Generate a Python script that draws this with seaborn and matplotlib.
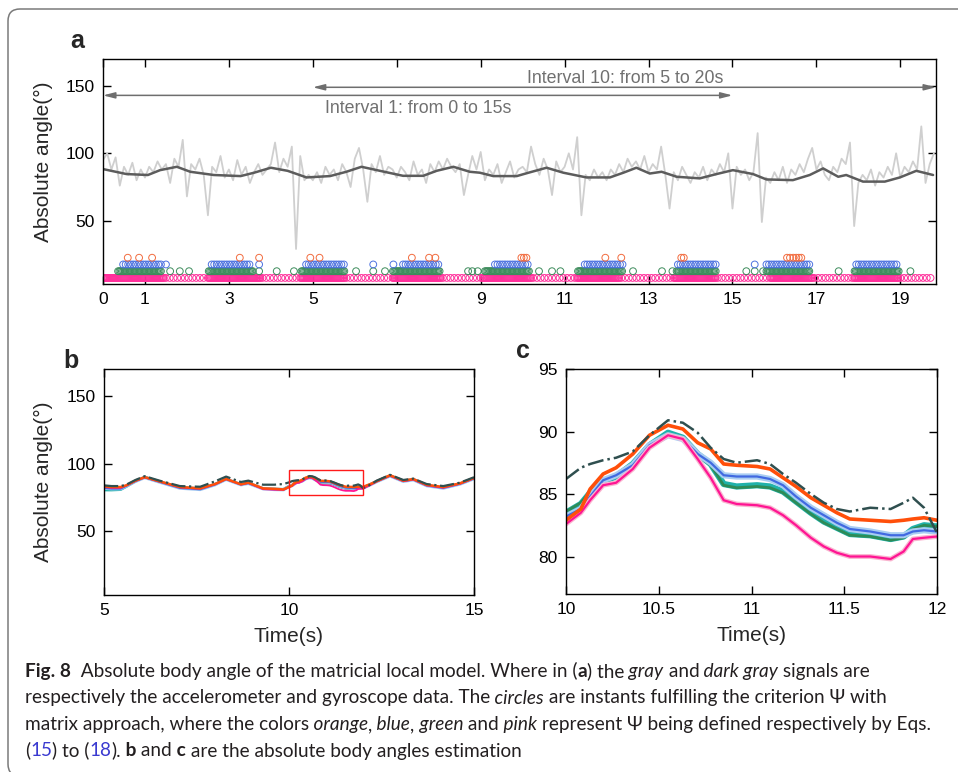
import numpy as np
import pandas as pd
import matplotlib
matplotlib.use("Agg")
import matplotlib.pyplot as plt
import seaborn as sns
from matplotlib.patches import FancyBboxPatch, Rectangle
from matplotlib.transforms import IdentityTransform

# ---------------- data: panel a ----------------
accel_t = np.round(np.arange(0, 19.85, 0.1), 1)
accel = [
    95, 100, 88, 97, 76, 90, 84, 93, 80, 88,
    82, 90, 86, 94, 88, 92, 78, 96, 90, 110,
    68, 92, 88, 96, 84, 54, 90, 86, 98, 82,
    88, 80, 95, 84, 90, 78, 86, 92, 84, 88,
    92, 108, 86, 96, 90, 105, 29, 98, 80, 84,
    80, 86, 78, 90, 84, 88, 80, 92, 86, 75,
    96, 104, 88, 64, 92, 86, 98, 84, 90, 88,
    82, 90, 86, 80, 94, 84, 88, 78, 92, 86,
    94, 88, 96, 90, 86, 92, 69, 84, 98, 88,
    101, 80, 88, 84, 92, 78, 86, 94, 82, 88,
    90, 86, 105, 92, 84, 96, 88, 69, 94, 86,
    90, 100, 88, 112, 54, 84, 80, 88, 82, 86,
    80, 88, 84, 92, 86, 96, 90, 94, 88, 98,
    86, 92, 88, 105, 84, 59, 86, 80, 90, 84,
    78, 86, 82, 90, 80, 88, 84, 92, 86, 100,
    59, 90, 84, 88, 80, 86, 115, 49, 82, 78,
    86, 80, 90, 78, 88, 84, 92, 86, 96, 104,
    88, 94, 84, 80, 90, 86, 96, 92, 108, 46,
    78, 84, 80, 88, 76, 86, 82, 90, 84, 100,
    82, 90, 86, 94, 88, 120, 78, 92, 100,
]
gyro_t = [0.0, 0.56, 1.07, 1.36, 1.76, 2.08, 2.64, 3.28, 3.6, 4.0, 4.4, 4.85, 5.41,
          5.8, 6.16, 6.6, 7.15, 7.63, 7.95, 8.35, 8.74, 8.98, 9.3, 9.86, 10.14, 10.57,
          10.97, 11.52, 12.08, 12.4, 12.71, 13.03, 13.31, 13.67, 14.22, 14.62, 15.01,
          15.49, 15.81, 16.44, 16.84, 17.16, 17.52, 17.71, 18.11, 18.63, 18.99, 19.38, 19.78]
gyro = [88.3, 84.6, 83.9, 87.5, 90.0, 86.3, 83.9, 83.1, 85.6, 89.3, 87.0, 82.1, 83.1,
        86.3, 90.0, 87.0, 83.3, 83.3, 87.0, 90.0, 86.3, 85.6, 83.1, 83.1, 85.6, 89.3,
        85.6, 82.1, 82.1, 85.6, 89.3, 85.0, 86.3, 82.6, 81.4, 84.6, 87.5,
        84.6, 80.6, 80.1, 83.9, 88.8, 82.6, 83.9, 79.0, 79.0, 82.1, 87.0, 83.9]

# instants fulfilling the criterion (level of each row, runs as (start, end, spacing), single instants)
row_levels = {"orange": 22.5, "blue": 17.5, "green": 12.5, "pink": 7.5}
orange_single = [0.59, 0.86, 1.17, 3.26, 3.72, 4.94, 5.16, 7.36, 7.77, 7.92, 9.97, 10.03,
                 10.09, 11.97, 12.35, 13.78, 13.84, 16.3, 16.37, 16.45, 16.52, 16.58, 16.64]
blue_runs = [(0.48, 1.4, 0.06), (2.59, 3.5, 0.06), (4.84, 5.74, 0.06), (7.15, 8.03, 0.06),
             (9.34, 10.17, 0.06), (11.48, 12.39, 0.06), (13.7, 14.62, 0.06),
             (15.81, 16.84, 0.06), (17.95, 18.95, 0.06)]
blue_single = [1.5, 3.72, 6.44, 6.92, 15.53]
green_runs = [(0.36, 1.4, 0.03), (2.52, 3.57, 0.03), (4.73, 5.76, 0.03), (6.91, 8.03, 0.03),
              (9.1, 10.17, 0.03), (11.32, 12.39, 0.03), (13.67, 14.62, 0.03),
              (15.81, 16.84, 0.03), (17.91, 18.98, 0.03)]
green_single = [1.6, 1.83, 2.05, 3.72, 4.14, 4.55, 6.03, 6.44, 6.72, 8.7, 8.8, 8.93, 10.39,
                10.7, 10.9, 12.63, 13.32, 13.57, 15.33, 15.53, 15.73, 17.53, 19.24]
pink_runs = [(0.0, 1.45, 0.025), (2.5, 3.75, 0.025), (4.7, 5.75, 0.025), (6.9, 8.05, 0.025),
             (9.05, 10.2, 0.025), (11.3, 12.3, 0.025), (13.6, 14.6, 0.025),
             (15.9, 16.9, 0.025), (17.9, 18.95, 0.025),
             (1.5, 2.45, 0.09), (3.8, 4.65, 0.09), (5.8, 6.85, 0.09), (8.1, 9.0, 0.09),
             (10.25, 11.25, 0.09), (12.35, 13.55, 0.09), (14.65, 15.85, 0.09),
             (16.95, 17.85, 0.09), (19.0, 19.8, 0.09)]
pink_single = []

# ---------------- data: panels b and c ----------------
t_left = [5.0, 5.2, 5.45, 5.6, 5.85, 6.1, 6.5, 7.05, 7.6, 8.0, 8.3, 8.7, 8.9, 9.3, 9.6, 9.85]
t_mid = [10.0, 10.08, 10.13, 10.2, 10.27, 10.36, 10.45, 10.55, 10.63, 10.71, 10.78, 10.85,
         10.92, 11.03, 11.1, 11.17, 11.24, 11.32, 11.39, 11.46, 11.53, 11.64, 11.75, 11.82,
         11.87, 11.93, 12.0]
t_right = [12.2, 12.37, 12.73, 13.09, 13.36, 13.72, 14.17, 14.62, 15.0]

ref_left = [84.0, 83.5, 83.5, 84.5, 88.0, 90.8, 87.5, 83.5, 83.0, 87.0, 90.5, 86.5, 87.5, 84.5, 84.5, 85.0]
ref_mid = [86.2, 87.1, 87.4, 87.7, 87.9, 88.4, 89.7, 90.9, 90.7, 89.9, 88.7, 87.8, 87.5, 87.7,
           87.4, 86.6, 85.9, 85.0, 84.3, 83.8, 83.6, 83.9, 83.8, 84.3, 84.7, 83.9, 81.9]
ref_right = [84.5, 87.5, 91.8, 88.0, 89.0, 85.0, 83.5, 86.0, 90.0]

orange_left = [83.3, 82.8, 82.8, 84.0, 87.5, 90.1, 87.0, 82.8, 81.8, 85.0, 88.8, 84.8, 86.0, 81.8, 81.5, 81.0]
orange_mid = [82.9, 83.8, 85.4, 86.6, 87.1, 88.2, 89.7, 90.5, 90.2, 89.1, 88.6, 87.4, 87.3, 87.2,
              87.0, 86.3, 85.6, 84.7, 84.1, 83.5, 83.0, 82.9, 82.8, 82.9, 83.0, 83.1, 82.9]
orange_right = [85.0, 87.1, 91.5, 87.5, 88.7, 84.4, 82.8, 85.5, 89.5]

blue_left = [82.0, 81.5, 81.5, 83.5, 87.0, 89.8, 86.5, 82.0, 81.0, 84.5, 88.5, 84.5, 85.5, 81.5, 81.0, 80.8]
blue_mid = [83.2, 83.8, 84.8, 86.1, 86.5, 87.3, 88.9, 89.7, 89.4, 88.2, 87.5, 86.5, 86.4, 86.4,
            86.2, 85.7, 84.8, 83.9, 83.3, 82.7, 82.2, 82.0, 81.7, 81.7, 82.0, 82.1, 82.0]
blue_right = [84.5, 86.8, 91.0, 87.0, 88.2, 83.8, 82.0, 85.0, 89.0]

green_left = [82.5, 82.0, 82.0, 83.8, 87.3, 90.0, 86.8, 82.5, 81.5, 84.8, 88.6, 84.6, 85.8, 81.6, 81.3, 81.0]
green_mid = [83.6, 84.3, 85.2, 86.1, 86.4, 87.4, 88.9, 89.8, 89.4, 88.1, 87.3, 85.7, 85.5, 85.6,
             85.5, 85.1, 84.3, 83.4, 82.7, 82.2, 81.7, 81.6, 81.3, 81.5, 82.2, 82.5, 82.4]
green_right = [84.7, 87.0, 91.2, 87.2, 88.4, 84.0, 82.3, 85.2, 89.2]

teal_left = [80.5, 80.5, 80.8, 83.0, 87.0, 90.3, 86.8, 82.8, 81.6, 84.9, 88.7, 84.7, 85.9, 81.7, 81.4, 81.2]
teal_mid = [83.5, 84.2, 85.1, 86.0, 86.4, 87.4, 88.9, 89.9, 89.5, 88.2, 87.4, 85.8, 85.6, 85.7,
            85.6, 85.2, 84.4, 83.5, 82.8, 82.3, 81.8, 81.7, 81.4, 81.6, 82.2, 82.5, 82.4]
teal_right = [84.8, 87.0, 91.3, 87.3, 88.5, 84.1, 82.4, 85.3, 89.3]

pink_left = [82.8, 82.2, 82.2, 83.8, 87.3, 89.9, 86.8, 82.5, 81.5, 84.8, 88.6, 84.6, 85.8, 81.2, 80.8, 80.6]
pink_mid = [82.6, 83.5, 84.5, 85.7, 85.9, 87.0, 88.7, 89.7, 89.4, 87.8, 86.3, 84.5, 84.2, 84.1,
            83.9, 83.3, 82.5, 81.5, 80.8, 80.3, 80.0, 80.0, 79.8, 80.4, 81.4, 81.5, 81.6]
pink_right = [84.3, 86.8, 91.1, 87.1, 88.3, 84.0, 82.3, 85.2, 89.2]

zoom_box = (10.0, 77.0, 12.0, 95.0)

a_xticks = [0, 1, 3, 5, 7, 9, 11, 13, 15, 17, 19]
a_yticks = [50, 100, 150]
b_xticks = [5, 10, 15]
c_xticks = [10, 10.5, 11, 11.5, 12]
c_xticklabels = ["10", "10.5", "11", "11.5", "12"]
c_yticks = [80, 85, 90, 95]

interval1 = (0, 15, 143, "Interval 1: from 0 to 15s", 7.5, 133.5)
interval10 = (5, 19.85, 149, "Interval 10: from 5 to 20s", 12.45, 155.5)

# ---------------- style ----------------
sns.set_style("ticks")
plt.rcParams["font.family"] = ["Liberation Sans", "DejaVu Sans"]
plt.rcParams["axes.linewidth"] = 1.0

C_ORANGE = "#f26c3f"
C_BLUE = "#4d72e0"
C_GREEN = "#3d8c5c"
C_PINK = "#ff2f9b"

W, H = 958, 772
fig = plt.figure(figsize=(W / 100, H / 100), dpi=100)


def fbox(l, t, r, b):
    return [l / W, 1 - b / H, (r - l) / W, (b - t) / H]


ax_a = fig.add_axes(fbox(103, 59, 936, 284))
ax_b = fig.add_axes(fbox(104, 369, 474, 595))
ax_c = fig.add_axes(fbox(566, 369, 937, 594))

for ax in (ax_a, ax_b, ax_c):
    ax.tick_params(direction="in", length=6, width=1, top=True, right=True,
                   labelsize=12.5, pad=6, colors="black")
    for sp in ax.spines.values():
        sp.set_color("black")
        sp.set_linewidth(1.0)

# ---------------- panel a ----------------
sns.lineplot(x=accel_t, y=accel, ax=ax_a, color="#cfcfcf", lw=1.3, estimator=None, sort=False)
sns.lineplot(x=gyro_t, y=gyro, ax=ax_a, color="#5c5c5c", lw=1.8, estimator=None, sort=False)


def expand(runs, singles):
    xs = list(singles)
    for s, e, d in runs:
        xs.extend(np.arange(s, e + 1e-9, d).tolist())
    return np.array(xs)


for name, col, runs, singles in [
    ("pink", C_PINK, pink_runs, pink_single),
    ("green", C_GREEN, green_runs, green_single),
    ("blue", C_BLUE, blue_runs, blue_single),
    ("orange", C_ORANGE, [], orange_single),
]:
    xs = expand(runs, singles)
    ys = np.full(len(xs), row_levels[name])
    sns.scatterplot(x=xs, y=ys, ax=ax_a, marker="o", s=24, color=col, facecolor="none",
                    edgecolor=col, linewidth=0.7, legend=False)

for (x0, x1, yv, label, tx, ty) in (interval1, interval10):
    ax_a.annotate("", xy=(x1, yv), xytext=(x0, yv), annotation_clip=False,
                  arrowprops=dict(arrowstyle="<|-|>,head_length=0.7,head_width=0.18",
                                  color="#6e6e6e", lw=1.1, shrinkA=0, shrinkB=0))
    ax_a.text(tx, ty, label, ha="center", va="center", fontsize=12.8, color="#707070")

ax_a.set_xlim(0, 19.85)
ax_a.set_ylim(3, 170)
ax_a.set_xticks(a_xticks)
ax_a.set_xticklabels([str(v) for v in a_xticks])
ax_a.set_yticks(a_yticks)
ax_a.set_xlabel("")
ax_a.set_ylabel("Absolute angle(°)", fontsize=15)
ax_a.yaxis.set_label_coords(-0.06, 0.545)

# ---------------- panel b ----------------
def series(left, mid, right):
    return t_left + t_mid + t_right, left + mid + right


tt, yy = series(teal_left, teal_mid, teal_right)
sns.lineplot(x=tt, y=yy, ax=ax_b, color="#20b2aa", lw=1.8, estimator=None, sort=False)
tt, yy = series(green_left, green_mid, green_right)
sns.lineplot(x=tt, y=yy, ax=ax_b, color="#2e8b57", lw=1.3, estimator=None, sort=False)
tt, yy = series(blue_left, blue_mid, blue_right)
sns.lineplot(x=tt, y=yy, ax=ax_b, color="#9ec5f0", lw=2.4, estimator=None, sort=False)
sns.lineplot(x=tt, y=yy, ax=ax_b, color="#4169e1", lw=1.2, estimator=None, sort=False)
tt, yy = series(pink_left, pink_mid, pink_right)
sns.lineplot(x=tt, y=yy, ax=ax_b, color="#ff1493", lw=1.3, estimator=None, sort=False)
tt, yy = series(orange_left, orange_mid, orange_right)
sns.lineplot(x=tt, y=yy, ax=ax_b, color="#ff4f0a", lw=1.8, estimator=None, sort=False)
tt, yy = series(ref_left, ref_mid, ref_right)
sns.lineplot(x=tt, y=yy, ax=ax_b, color="#2f4f4f", lw=1.6, linestyle="-.", estimator=None, sort=False)

x0, y0, x1, y1 = zoom_box
ax_b.add_patch(Rectangle((x0, y0), x1 - x0, y1 - y0, fill=False, edgecolor="#ff1a1a", lw=1.0, zorder=5))
ax_b.set_xlim(5, 15)
ax_b.set_ylim(3, 170)
ax_b.set_xticks(b_xticks)
ax_b.set_yticks(a_yticks)
ax_b.set_xlabel("Time(s)", fontsize=15, labelpad=6)
ax_b.set_ylabel("Absolute angle(°)", fontsize=15)
ax_b.yaxis.set_label_coords(-0.138, 0.5)

# ---------------- panel c ----------------
sns.lineplot(x=t_mid, y=teal_mid, ax=ax_c, color="#20b2aa", lw=4.5, estimator=None, sort=False)
sns.lineplot(x=t_mid, y=green_mid, ax=ax_c, color="#2e8b57", lw=2.0, estimator=None, sort=False)
sns.lineplot(x=t_mid, y=blue_mid, ax=ax_c, color="#a9cdf2", lw=4.5, estimator=None, sort=False)
sns.lineplot(x=t_mid, y=blue_mid, ax=ax_c, color="#4169e1", lw=1.6, estimator=None, sort=False)
sns.lineplot(x=t_mid, y=pink_mid, ax=ax_c, color="#f9b4cf", lw=3.5, estimator=None, sort=False)
sns.lineplot(x=t_mid, y=pink_mid, ax=ax_c, color="#ff1493", lw=1.6, estimator=None, sort=False)
sns.lineplot(x=t_mid, y=orange_mid, ax=ax_c, color="#ff4f0a", lw=2.6, estimator=None, sort=False)
sns.lineplot(x=t_mid, y=ref_mid, ax=ax_c, color="#2f4f4f", lw=1.8, linestyle="-.", estimator=None, sort=False)
ax_c.set_xlim(10, 12)
ax_c.set_ylim(77, 95)
ax_c.set_xticks(c_xticks)
ax_c.set_xticklabels(c_xticklabels)
ax_c.set_yticks(c_yticks)
ax_c.set_xlabel("Time(s)", fontsize=15, labelpad=6)
ax_c.set_ylabel("")

# ---------------- panel letters ----------------
fig.text(70 / W, 1 - 48 / H, "a", fontsize=18, fontweight="bold", va="baseline")
fig.text(63 / W, 1 - 368 / H, "b", fontsize=18, fontweight="bold", va="baseline")
fig.text(516 / W, 1 - 358 / H, "c", fontsize=18, fontweight="bold", va="baseline")

# ---------------- frame ----------------
frame = FancyBboxPatch((8, -4), 1000, 767, boxstyle="round,pad=0,rounding_size=12",
                       transform=IdentityTransform(), fill=False, edgecolor="#7a7a7a",
                       lw=1.1, clip_on=False)
fig.add_artist(frame)

# ---------------- caption ----------------
CAP_FONT = ["Lato", "DejaVu Sans"]
CAP_SIZE = 13.7
cap_lines = [
    (677, [("Fig. 8", "b"), ("  Absolute body angle of the matricial local model. Where in (", "n"),
           ("a", "b"), (") the", "n"), (" gray", "i"), (" and", "n"), (" dark gray", "i"),
           (" signals are", "n")]),
    (703.5, [("respectively the accelerometer and gyroscope data. The", "n"), (" circles", "i"),
             (" are instants fulfilling the criterion Ψ with", "n")]),
    (730, [("matrix approach, where the colors", "n"), (" orange", "i"), (",", "n"),
           (" blue", "i"), (",", "n"), (" green", "i"), (" and", "n"), (" pink", "i"),
           (" represent Ψ being defined respectively by Eqs.", "n")]),
    (756.5, [("(", "n"), ("15", "link"), (") to (", "n"), ("18", "link"), (").", "n"),
             (" b", "b"), (" and", "n"), (" c", "b"), (" are the absolute body angles estimation", "n")]),
]
for ypx, segs in cap_lines:
    prev = None
    for s, st in segs:
        kw = dict(fontsize=CAP_SIZE, family=CAP_FONT, color="#231f20")
        if st == "b":
            kw["fontweight"] = "bold"
        elif st == "i":
            kw["fontstyle"] = "italic"
        elif st == "link":
            kw["color"] = "#3a3ad0"
        if prev is None:
            prev = fig.text(25 / W, 1 - ypx / H, s, ha="left", va="baseline", **kw)
        else:
            prev = ax_a.annotate(s, xy=(1, 0), xycoords=prev, ha="left", va="bottom",
                                 annotation_clip=False, **kw)

fig.savefig("out.png", dpi=100)
